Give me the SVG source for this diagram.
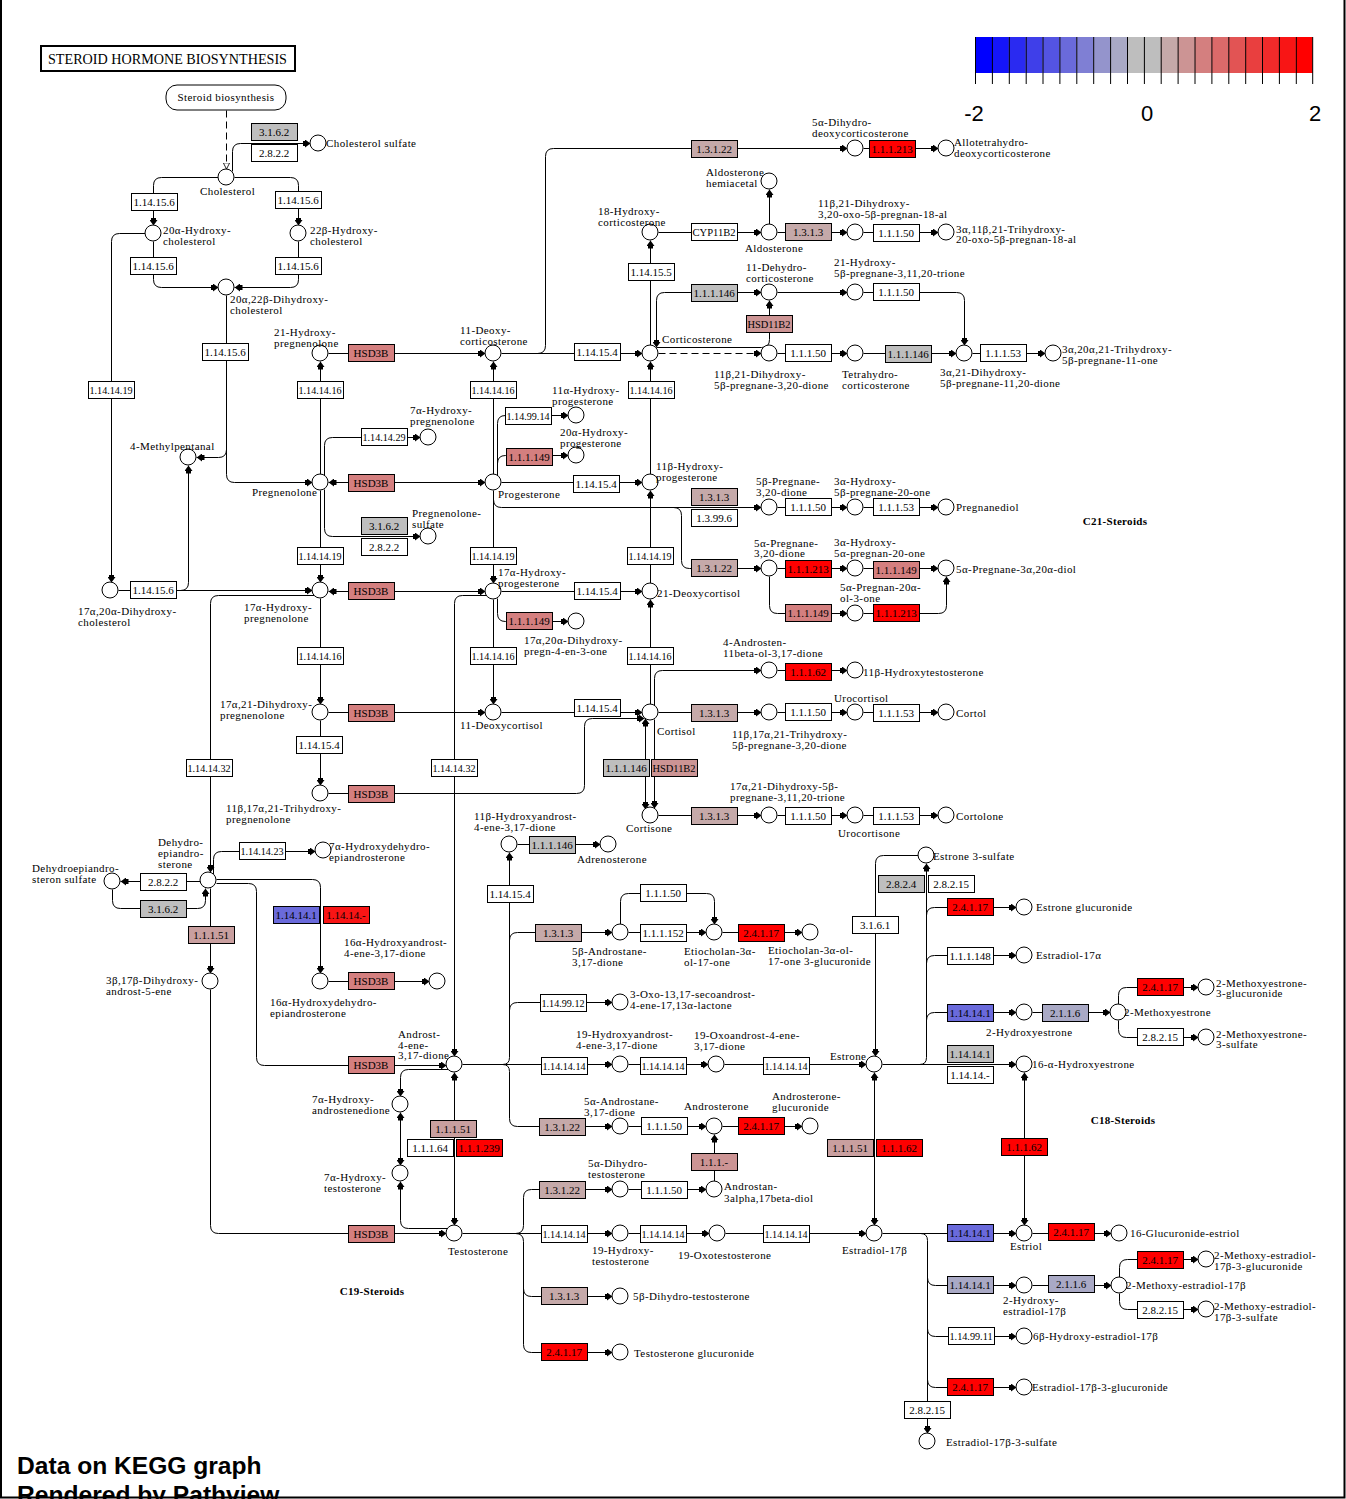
<svg xmlns="http://www.w3.org/2000/svg" width="1346" height="1499" viewBox="0 0 1346 1499">
<style>
text{font-family:"Liberation Serif","Times New Roman",serif;fill:#000}
.l{font-size:11px;letter-spacing:0.4px}
.t{font-size:11px;text-anchor:middle}
.bd{font-size:11px;font-weight:bold;text-anchor:middle;letter-spacing:0.3px}
.sans{font-family:"Liberation Sans",Arial,sans-serif}
.c{fill:#fff;stroke:#000;stroke-width:1}
.e{stroke:#000;stroke-width:1}
.w{fill:#fff}.g{fill:#bebebe}.r{fill:#ff0000}.h{fill:#d47f7f}.p{fill:#c5a9a9}.q{fill:#cc9494}.s{fill:#c99f9f}.b{fill:#6a6adb}.v{fill:#a9a9c5}.x{fill:#f81515}
#conn path{fill:none;stroke:#000;stroke-width:1}
#conn .m{marker-end:url(#a)}
#conn .mm{marker-start:url(#a);marker-end:url(#a)}
#conn .d{stroke-dasharray:7 4}
</style>
<defs>
<marker id="a" viewBox="0 0 8 8" refX="8" refY="4" markerWidth="8" markerHeight="8" markerUnits="userSpaceOnUse" orient="auto-start-reverse"><path d="M0,1.5H2.5V0L8,4L2.5,8V6.5H0Z" fill="#000"/></marker>
<marker id="o" viewBox="0 0 10 10" refX="10" refY="5" markerWidth="7" markerHeight="7" markerUnits="userSpaceOnUse" orient="auto"><path d="M0.5,0.5L9.5,5L0.5,9.5Z" fill="#fff" stroke="#000" stroke-width="1.2"/></marker>
</defs>
<rect x="0" y="0" width="1346" height="1499" fill="#fff"/>

<g id="legend">
<rect x="975" y="37" width="17" height="36" fill="#0000ff"/>
<rect x="991.9" y="37" width="17" height="36" fill="#1515f8"/>
<rect x="1008.8" y="37" width="17" height="36" fill="#2a2af1"/>
<rect x="1025.7" y="37" width="17" height="36" fill="#3f3fe9"/>
<rect x="1042.5" y="37" width="17" height="36" fill="#5454e2"/>
<rect x="1059.4" y="37" width="17" height="36" fill="#6a6adb"/>
<rect x="1076.3" y="37" width="17" height="36" fill="#7f7fd4"/>
<rect x="1093.2" y="37" width="17" height="36" fill="#9494cc"/>
<rect x="1110.1" y="37" width="17" height="36" fill="#a9a9c5"/>
<rect x="1127" y="37" width="17" height="36" fill="#bebebe"/>
<rect x="1143.9" y="37" width="17" height="36" fill="#bebebe"/>
<rect x="1160.7" y="37" width="17" height="36" fill="#c5a9a9"/>
<rect x="1177.6" y="37" width="17" height="36" fill="#cc9494"/>
<rect x="1194.5" y="37" width="17" height="36" fill="#d47f7f"/>
<rect x="1211.4" y="37" width="17" height="36" fill="#db6a6a"/>
<rect x="1228.3" y="37" width="17" height="36" fill="#e25454"/>
<rect x="1245.2" y="37" width="17" height="36" fill="#e93f3f"/>
<rect x="1262" y="37" width="17" height="36" fill="#f12a2a"/>
<rect x="1278.9" y="37" width="17" height="36" fill="#f81515"/>
<rect x="1295.8" y="37" width="16.9" height="36" fill="#ff0000"/>
<path d="M975.5,37V84M992.4,37V84M1009.3,37V84M1026.2,37V84M1043,37V84M1059.9,37V84M1076.8,37V84M1093.7,37V84M1110.6,37V84M1127.5,37V84M1144.4,37V84M1161.2,37V84M1178.1,37V84M1195,37V84M1211.9,37V84M1228.8,37V84M1245.7,37V84M1262.5,37V84M1279.4,37V84M1296.3,37V84M1312.7,37V84" stroke="#000" stroke-width="1" fill="none"/>
<text class="sans" x="974" y="121" font-size="22" text-anchor="middle">-2</text>
<text class="sans" x="1147" y="121" font-size="22" text-anchor="middle">0</text>
<text class="sans" x="1315" y="121" font-size="22" text-anchor="middle">2</text>
</g>

<g id="title">
<rect x="41" y="46" width="254" height="25" fill="#fff" stroke="#000" stroke-width="2"/>
<text x="48" y="64" font-size="15" textLength="239" lengthAdjust="spacingAndGlyphs">STEROID HORMONE BIOSYNTHESIS</text>
</g>

<g id="conn" transform="translate(.5,.5)">
<path class="d" d="M226,110V169" style="marker-end:url(#o)"/>
<path class="m" d="M232,171V151Q232,143 240,143H310"/>
<path class="m" d="M218,177H161Q153,177 153,185V225"/>
<path class="m" d="M234,177H290Q298,177 298,185V225"/>
<path class="m" d="M153,241V279Q153,287 161,287H218"/>
<path class="m" d="M298,241V279Q298,287 290,287H234"/>
<path class="m" d="M145,233H119Q111,233 111,241V582"/>
<path class="m" d="M118,590H312"/>
<path class="m" d="M180,590Q188,590 188,582V465"/>
<path class="m" d="M226,295V474Q226,482 234,482H312"/>
<path class="m" d="M226,449Q226,457 218,457H196"/>
<path class="m" d="M320,474V361"/>
<path class="m" d="M328,353H485"/>
<path class="mm" d="M328,482H485"/>
<path class="m" d="M324,475V445Q324,437 332,437H420"/>
<path class="m" d="M324,489V528Q324,536 332,536H420"/>
<path class="m" d="M320,490V582"/>
<path class="mm" d="M328,591H485"/>
<path class="m" d="M320,598V704"/>
<path class="m" d="M314,595H218Q210,595 210,603V872"/>
<path class="m" d="M328,712H485"/>
<path class="m" d="M320,720V785"/>
<path class="m" d="M328,793H576Q584,793 584,785V726Q584,718 592,718H644"/>
<path class="m" d="M493,474V361"/>
<path class="m" d="M497,475V423Q497,415 505,415H568"/>
<path class="m" d="M497,463Q497,455 505,455H568"/>
<path class="m" d="M501,482H642"/>
<path class="m" d="M493,490V583"/>
<path class="m" d="M493,499Q493,507 501,507H761"/>
<path class="m" d="M673,507Q681,507 681,515V560Q681,568 689,568H761"/>
<path class="m" d="M650,474V361"/>
<path class="m" d="M650,583V490"/>
<path class="m" d="M501,591H642"/>
<path class="m" d="M497,598V613Q497,621 505,621H568"/>
<path class="m" d="M493,599V704"/>
<path class="m" d="M486,595H462Q454,595 454,603V1056"/>
<path class="m" d="M650,704V599"/>
<path class="m" d="M501,712H642"/>
<path class="m" d="M654,705V678Q654,670 662,670H761"/>
<path class="m" d="M777,670H847"/>
<path class="m" d="M501,353H642"/>
<path class="m" d="M537,353Q545,353 545,345V156Q545,148 553,148H847"/>
<path class="m" d="M863,148H938"/>
<path class="m" d="M650,345V240"/>
<path class="m" d="M658,232H761"/>
<path class="m" d="M769,224V189"/>
<path class="m" d="M777,232H847"/>
<path class="m" d="M863,232H938"/>
<path class="mm" d="M656,347V300Q656,292 664,292H761"/>
<path class="m" d="M656,347H761Q769,347 769,339V300"/>
<path class="m d" d="M658,353H761"/>
<path class="m" d="M777,353H847"/>
<path class="m" d="M863,353H956"/>
<path class="m" d="M777,292H847"/>
<path class="m" d="M863,292H956Q964,292 964,300V345"/>
<path class="m" d="M972,353H1045"/>
<path class="m" d="M777,507H847"/>
<path class="m" d="M863,507H938"/>
<path class="m" d="M777,568H847"/>
<path class="m" d="M863,568H938"/>
<path class="m" d="M769,576V605Q769,613 777,613H847"/>
<path class="m" d="M863,613H938Q946,613 946,605V576"/>
<path class="m" d="M658,712H761"/>
<path class="m" d="M777,712H847"/>
<path class="m" d="M863,712H938"/>
<path class="mm" d="M645,718V809"/>
<path class="m" d="M654,719V808"/>
<path class="m" d="M658,815H761"/>
<path class="m" d="M777,815H847"/>
<path class="m" d="M863,815H938"/>
<path class="m" d="M502,1064Q509,1064 509,1057V852"/>
<path class="m" d="M517,844H600"/>
<path class="m" d="M509,940Q509,932 517,932H612"/>
<path class="m" d="M628,932H706"/>
<path class="m" d="M620,924V901Q620,893 628,893H706Q714,893 714,901V924"/>
<path class="m" d="M722,932H802"/>
<path class="m" d="M509,1010Q509,1002 517,1002H612"/>
<path class="m" d="M502,1064Q509,1064 509,1071V1118Q509,1126 517,1126H612"/>
<path class="m" d="M462,1064H612"/>
<path class="m" d="M628,1064H708"/>
<path class="m" d="M724,1064H866"/>
<path class="m" d="M628,1126H706"/>
<path class="m" d="M722,1126H802"/>
<path class="m" d="M714,1181V1134"/>
<path class="m" d="M628,1189H706"/>
<path class="m" d="M462,1233H612"/>
<path class="m" d="M628,1233H709"/>
<path class="m" d="M725,1233H866"/>
<path class="m" d="M515,1233Q523,1233 523,1225V1197Q523,1189 531,1189H612"/>
<path class="m" d="M515,1233Q523,1233 523,1241V1344Q523,1352 531,1352H612"/>
<path class="m" d="M523,1288Q523,1296 531,1296H612"/>
<path class="mm" d="M454,1072V1225"/>
<path class="m" d="M448,1069H408Q400,1069 400,1077V1096"/>
<path class="mm" d="M400,1112V1165"/>
<path class="m" d="M448,1228H408Q400,1228 400,1220V1181"/>
<path class="m" d="M216,883H248Q256,883 256,891V1057Q256,1065 264,1065H446"/>
<path class="m" d="M216,879H312Q320,879 320,887V973"/>
<path class="m" d="M213,874V859Q213,851 221,851H315"/>
<path class="m" d="M200,881H120"/>
<path class="m" d="M112,889V900Q112,908 120,908H197Q205,908 205,900V888"/>
<path class="m" d="M210,888V973"/>
<path class="m" d="M210,989V1225Q210,1233 218,1233H446"/>
<path class="m" d="M328,981H429"/>
<path class="mm" d="M874,1072V1225"/>
<path class="m" d="M918,855H883Q875,855 875,863V1056"/>
<path class="m" d="M882,1064H1016"/>
<path class="m" d="M919,1064Q926,1064 926,1057V863"/>
<path class="m" d="M926,915Q926,907 934,907H1016"/>
<path class="m" d="M926,963Q926,955 934,955H1016"/>
<path class="m" d="M926,1020Q926,1012 934,1012H1016"/>
<path class="m" d="M1032,1012H1110"/>
<path class="m" d="M1118,1004V995Q1118,987 1126,987H1198"/>
<path class="m" d="M1118,1020V1029Q1118,1037 1126,1037H1198"/>
<path class="mm" d="M1024,1072V1225"/>
<path class="m" d="M882,1233H1016"/>
<path class="m" d="M1032,1233H1111"/>
<path class="m" d="M920,1233Q927,1233 927,1240V1433"/>
<path class="m" d="M927,1277Q927,1285 935,1285H1016"/>
<path class="m" d="M927,1328Q927,1336 935,1336H1016"/>
<path class="m" d="M927,1379Q927,1387 935,1387H1016"/>
<path class="m" d="M1032,1285H1111"/>
<path class="m" d="M1119,1277V1267Q1119,1259 1127,1259H1198"/>
<path class="m" d="M1119,1293V1301Q1119,1309 1127,1309H1198"/>
</g>

<g id="map-steroid-biosynthesis"><rect x="166" y="85" width="120" height="25" rx="11" fill="#fff" stroke="#000"/><text class="l" x="226" y="101" text-anchor="middle" letter-spacing="0.2">Steroid biosynthesis</text></g>

<g id="enzymes">
<g id="e1"><rect class="e g" x="251.5" y="123.5" width="46" height="17"/><text class="t" x="274" y="136">3.1.6.2</text></g>
<g id="e2"><rect class="e w" x="251.5" y="144.5" width="46" height="17"/><text class="t" x="274" y="157">2.8.2.2</text></g>
<g id="e3"><rect class="e w" x="131.5" y="193.5" width="46" height="17"/><text class="t" x="154" y="206">1.14.15.6</text></g>
<g id="e4"><rect class="e w" x="275.5" y="191.5" width="46" height="17"/><text class="t" x="298" y="204">1.14.15.6</text></g>
<g id="e5"><rect class="e w" x="130.5" y="257.5" width="46" height="17"/><text class="t" x="153" y="270">1.14.15.6</text></g>
<g id="e6"><rect class="e w" x="275.5" y="257.5" width="46" height="17"/><text class="t" x="298" y="270">1.14.15.6</text></g>
<g id="e7"><rect class="e w" x="202.5" y="343.5" width="46" height="17"/><text class="t" x="225" y="356">1.14.15.6</text></g>
<g id="e8"><rect class="e h" x="348.5" y="344.5" width="46" height="17"/><text class="t" x="371" y="357">HSD3B</text></g>
<g id="e9"><rect class="e w" x="297.5" y="381.5" width="46" height="17"/><text class="t" x="320" y="394" textLength="43" lengthAdjust="spacingAndGlyphs">1.14.14.16</text></g>
<g id="e10"><rect class="e w" x="88.5" y="381.5" width="46" height="17"/><text class="t" x="111" y="394" textLength="43" lengthAdjust="spacingAndGlyphs">1.14.14.19</text></g>
<g id="e11"><rect class="e w" x="361.5" y="428.5" width="46" height="17"/><text class="t" x="384" y="441" textLength="43" lengthAdjust="spacingAndGlyphs">1.14.14.29</text></g>
<g id="e12"><rect class="e h" x="348.5" y="474.5" width="46" height="17"/><text class="t" x="371" y="487">HSD3B</text></g>
<g id="e13"><rect class="e g" x="361.5" y="517.5" width="46" height="17"/><text class="t" x="384" y="530">3.1.6.2</text></g>
<g id="e14"><rect class="e w" x="361.5" y="538.5" width="46" height="17"/><text class="t" x="384" y="551">2.8.2.2</text></g>
<g id="e15"><rect class="e w" x="297.5" y="547.5" width="46" height="17"/><text class="t" x="320" y="560" textLength="43" lengthAdjust="spacingAndGlyphs">1.14.14.19</text></g>
<g id="e16"><rect class="e w" x="130.5" y="581.5" width="46" height="17"/><text class="t" x="153" y="594">1.14.15.6</text></g>
<g id="e17"><rect class="e h" x="348.5" y="582.5" width="46" height="17"/><text class="t" x="371" y="595">HSD3B</text></g>
<g id="e18"><rect class="e w" x="297.5" y="647.5" width="46" height="17"/><text class="t" x="320" y="660" textLength="43" lengthAdjust="spacingAndGlyphs">1.14.14.16</text></g>
<g id="e19"><rect class="e h" x="348.5" y="704.5" width="46" height="17"/><text class="t" x="371" y="717">HSD3B</text></g>
<g id="e20"><rect class="e w" x="296.5" y="736.5" width="46" height="17"/><text class="t" x="319" y="749">1.14.15.4</text></g>
<g id="e21"><rect class="e w" x="186.5" y="759.5" width="46" height="17"/><text class="t" x="209" y="772" textLength="43" lengthAdjust="spacingAndGlyphs">1.14.14.32</text></g>
<g id="e22"><rect class="e h" x="348.5" y="785.5" width="46" height="17"/><text class="t" x="371" y="798">HSD3B</text></g>
<g id="e23"><rect class="e w" x="470.5" y="381.5" width="46" height="17"/><text class="t" x="493" y="394" textLength="43" lengthAdjust="spacingAndGlyphs">1.14.14.16</text></g>
<g id="e24"><rect class="e w" x="505.5" y="407.5" width="46" height="17"/><text class="t" x="528" y="420" textLength="43" lengthAdjust="spacingAndGlyphs">1.14.99.14</text></g>
<g id="e25"><rect class="e h" x="506.5" y="448.5" width="46" height="17"/><text class="t" x="529" y="461">1.1.1.149</text></g>
<g id="e26"><rect class="e w" x="573.5" y="475.5" width="46" height="17"/><text class="t" x="596" y="488">1.14.15.4</text></g>
<g id="e27"><rect class="e w" x="470.5" y="547.5" width="46" height="17"/><text class="t" x="493" y="560" textLength="43" lengthAdjust="spacingAndGlyphs">1.14.14.19</text></g>
<g id="e28"><rect class="e w" x="574.5" y="582.5" width="46" height="17"/><text class="t" x="597" y="595">1.14.15.4</text></g>
<g id="e29"><rect class="e h" x="506.5" y="612.5" width="46" height="17"/><text class="t" x="529" y="625">1.1.1.149</text></g>
<g id="e30"><rect class="e w" x="470.5" y="647.5" width="46" height="17"/><text class="t" x="493" y="660" textLength="43" lengthAdjust="spacingAndGlyphs">1.14.14.16</text></g>
<g id="e31"><rect class="e w" x="431.5" y="759.5" width="46" height="17"/><text class="t" x="454" y="772" textLength="43" lengthAdjust="spacingAndGlyphs">1.14.14.32</text></g>
<g id="e32"><rect class="e w" x="574.5" y="343.5" width="46" height="17"/><text class="t" x="597" y="356">1.14.15.4</text></g>
<g id="e33"><rect class="e p" x="691.5" y="140.5" width="46" height="17"/><text class="t" x="714" y="153">1.3.1.22</text></g>
<g id="e34"><rect class="e r" x="869.5" y="140.5" width="46" height="17"/><text class="t" x="892" y="153">1.1.1.213</text></g>
<g id="e35"><rect class="e w" x="628.5" y="263.5" width="46" height="17"/><text class="t" x="651" y="276">1.14.15.5</text></g>
<g id="e36"><rect class="e w" x="691.5" y="223.5" width="46" height="17"/><text class="t" x="714" y="236" textLength="43" lengthAdjust="spacingAndGlyphs">CYP11B2</text></g>
<g id="e37"><rect class="e p" x="785.5" y="223.5" width="46" height="17"/><text class="t" x="808" y="236">1.3.1.3</text></g>
<g id="e38"><rect class="e w" x="873.5" y="224.5" width="46" height="17"/><text class="t" x="896" y="237">1.1.1.50</text></g>
<g id="e39"><rect class="e g" x="691.5" y="284.5" width="46" height="17"/><text class="t" x="714" y="297">1.1.1.146</text></g>
<g id="e40"><rect class="e q" x="746.5" y="315.5" width="46" height="17"/><text class="t" x="769" y="328" textLength="43" lengthAdjust="spacingAndGlyphs">HSD11B2</text></g>
<g id="e41"><rect class="e w" x="785.5" y="344.5" width="46" height="17"/><text class="t" x="808" y="357">1.1.1.50</text></g>
<g id="e42"><rect class="e g" x="885.5" y="345.5" width="46" height="17"/><text class="t" x="908" y="358">1.1.1.146</text></g>
<g id="e43"><rect class="e w" x="873.5" y="283.5" width="46" height="17"/><text class="t" x="896" y="296">1.1.1.50</text></g>
<g id="e44"><rect class="e w" x="980.5" y="344.5" width="46" height="17"/><text class="t" x="1003" y="357">1.1.1.53</text></g>
<g id="e45"><rect class="e w" x="628.5" y="381.5" width="46" height="17"/><text class="t" x="651" y="394" textLength="43" lengthAdjust="spacingAndGlyphs">1.14.14.16</text></g>
<g id="e46"><rect class="e p" x="691.5" y="488.5" width="46" height="17"/><text class="t" x="714" y="501">1.3.1.3</text></g>
<g id="e47"><rect class="e w" x="691.5" y="509.5" width="46" height="17"/><text class="t" x="714" y="522">1.3.99.6</text></g>
<g id="e48"><rect class="e w" x="785.5" y="498.5" width="46" height="17"/><text class="t" x="808" y="511">1.1.1.50</text></g>
<g id="e49"><rect class="e w" x="873.5" y="498.5" width="46" height="17"/><text class="t" x="896" y="511">1.1.1.53</text></g>
<g id="e50"><rect class="e w" x="627.5" y="547.5" width="46" height="17"/><text class="t" x="650" y="560" textLength="43" lengthAdjust="spacingAndGlyphs">1.14.14.19</text></g>
<g id="e51"><rect class="e p" x="691.5" y="559.5" width="46" height="17"/><text class="t" x="714" y="572">1.3.1.22</text></g>
<g id="e52"><rect class="e r" x="785.5" y="560.5" width="46" height="17"/><text class="t" x="808" y="573">1.1.1.213</text></g>
<g id="e53"><rect class="e h" x="873.5" y="561.5" width="46" height="17"/><text class="t" x="896" y="574">1.1.1.149</text></g>
<g id="e54"><rect class="e h" x="785.5" y="604.5" width="46" height="17"/><text class="t" x="808" y="617">1.1.1.149</text></g>
<g id="e55"><rect class="e r" x="873.5" y="604.5" width="46" height="17"/><text class="t" x="896" y="617">1.1.1.213</text></g>
<g id="e56"><rect class="e w" x="627.5" y="647.5" width="46" height="17"/><text class="t" x="650" y="660" textLength="43" lengthAdjust="spacingAndGlyphs">1.14.14.16</text></g>
<g id="e57"><rect class="e r" x="785.5" y="663.5" width="46" height="17"/><text class="t" x="808" y="676">1.1.1.62</text></g>
<g id="e58"><rect class="e w" x="574.5" y="699.5" width="46" height="17"/><text class="t" x="597" y="712">1.14.15.4</text></g>
<g id="e59"><rect class="e p" x="691.5" y="704.5" width="46" height="17"/><text class="t" x="714" y="717">1.3.1.3</text></g>
<g id="e60"><rect class="e w" x="785.5" y="703.5" width="46" height="17"/><text class="t" x="808" y="716">1.1.1.50</text></g>
<g id="e61"><rect class="e w" x="873.5" y="704.5" width="46" height="17"/><text class="t" x="896" y="717">1.1.1.53</text></g>
<g id="e62"><rect class="e g" x="603.5" y="759.5" width="46" height="17"/><text class="t" x="626" y="772">1.1.1.146</text></g>
<g id="e63"><rect class="e q" x="651.5" y="759.5" width="46" height="17"/><text class="t" x="674" y="772" textLength="43" lengthAdjust="spacingAndGlyphs">HSD11B2</text></g>
<g id="e64"><rect class="e p" x="691.5" y="807.5" width="46" height="17"/><text class="t" x="714" y="820">1.3.1.3</text></g>
<g id="e65"><rect class="e w" x="785.5" y="807.5" width="46" height="17"/><text class="t" x="808" y="820">1.1.1.50</text></g>
<g id="e66"><rect class="e w" x="873.5" y="807.5" width="46" height="17"/><text class="t" x="896" y="820">1.1.1.53</text></g>
<g id="e67"><rect class="e g" x="529.5" y="836.5" width="46" height="17"/><text class="t" x="552" y="849">1.1.1.146</text></g>
<g id="e68"><rect class="e w" x="487.5" y="885.5" width="46" height="17"/><text class="t" x="510" y="898">1.14.15.4</text></g>
<g id="e69"><rect class="e p" x="535.5" y="924.5" width="46" height="17"/><text class="t" x="558" y="937">1.3.1.3</text></g>
<g id="e70"><rect class="e w" x="640.5" y="884.5" width="46" height="17"/><text class="t" x="663" y="897">1.1.1.50</text></g>
<g id="e71"><rect class="e w" x="640.5" y="924.5" width="46" height="17"/><text class="t" x="663" y="937">1.1.1.152</text></g>
<g id="e72"><rect class="e r" x="738.5" y="924.5" width="46" height="17"/><text class="t" x="761" y="937">2.4.1.17</text></g>
<g id="e73"><rect class="e w" x="540.5" y="994.5" width="46" height="17"/><text class="t" x="563" y="1007" textLength="43" lengthAdjust="spacingAndGlyphs">1.14.99.12</text></g>
<g id="e74"><rect class="e w" x="239.5" y="842.5" width="46" height="17"/><text class="t" x="262" y="855" textLength="43" lengthAdjust="spacingAndGlyphs">1.14.14.23</text></g>
<g id="e75"><rect class="e w" x="140.5" y="873.5" width="46" height="17"/><text class="t" x="163" y="886">2.8.2.2</text></g>
<g id="e76"><rect class="e g" x="140.5" y="900.5" width="46" height="17"/><text class="t" x="163" y="913">3.1.6.2</text></g>
<g id="e77"><rect class="e b" x="273.5" y="906.5" width="46" height="17"/><text class="t" x="296" y="919">1.14.14.1</text></g>
<g id="e78"><rect class="e x" x="323.5" y="906.5" width="46" height="17"/><text class="t" x="346" y="919">1.14.14.-</text></g>
<g id="e79"><rect class="e s" x="188.5" y="926.5" width="46" height="17"/><text class="t" x="211" y="939">1.1.1.51</text></g>
<g id="e80"><rect class="e h" x="348.5" y="972.5" width="46" height="17"/><text class="t" x="371" y="985">HSD3B</text></g>
<g id="e81"><rect class="e h" x="348.5" y="1056.5" width="46" height="17"/><text class="t" x="371" y="1069">HSD3B</text></g>
<g id="e82"><rect class="e h" x="348.5" y="1225.5" width="46" height="17"/><text class="t" x="371" y="1238">HSD3B</text></g>
<g id="e83"><rect class="e s" x="430.5" y="1120.5" width="46" height="17"/><text class="t" x="453" y="1133">1.1.1.51</text></g>
<g id="e84"><rect class="e w" x="407.5" y="1139.5" width="46" height="17"/><text class="t" x="430" y="1152">1.1.1.64</text></g>
<g id="e85"><rect class="e r" x="456.5" y="1139.5" width="46" height="17"/><text class="t" x="479" y="1152">1.1.1.239</text></g>
<g id="e86"><rect class="e w" x="541.5" y="1057.5" width="46" height="17"/><text class="t" x="564" y="1070" textLength="43" lengthAdjust="spacingAndGlyphs">1.14.14.14</text></g>
<g id="e87"><rect class="e w" x="640.5" y="1057.5" width="46" height="17"/><text class="t" x="663" y="1070" textLength="43" lengthAdjust="spacingAndGlyphs">1.14.14.14</text></g>
<g id="e88"><rect class="e w" x="763.5" y="1057.5" width="46" height="17"/><text class="t" x="786" y="1070" textLength="43" lengthAdjust="spacingAndGlyphs">1.14.14.14</text></g>
<g id="e89"><rect class="e p" x="539.5" y="1118.5" width="46" height="17"/><text class="t" x="562" y="1131">1.3.1.22</text></g>
<g id="e90"><rect class="e w" x="641.5" y="1117.5" width="46" height="17"/><text class="t" x="664" y="1130">1.1.1.50</text></g>
<g id="e91"><rect class="e r" x="738.5" y="1117.5" width="46" height="17"/><text class="t" x="761" y="1130">2.4.1.17</text></g>
<g id="e92"><rect class="e q" x="691.5" y="1153.5" width="46" height="17"/><text class="t" x="714" y="1166">1.1.1.-</text></g>
<g id="e93"><rect class="e p" x="539.5" y="1181.5" width="46" height="17"/><text class="t" x="562" y="1194">1.3.1.22</text></g>
<g id="e94"><rect class="e w" x="641.5" y="1181.5" width="46" height="17"/><text class="t" x="664" y="1194">1.1.1.50</text></g>
<g id="e95"><rect class="e w" x="541.5" y="1225.5" width="46" height="17"/><text class="t" x="564" y="1238" textLength="43" lengthAdjust="spacingAndGlyphs">1.14.14.14</text></g>
<g id="e96"><rect class="e w" x="640.5" y="1225.5" width="46" height="17"/><text class="t" x="663" y="1238" textLength="43" lengthAdjust="spacingAndGlyphs">1.14.14.14</text></g>
<g id="e97"><rect class="e w" x="763.5" y="1225.5" width="46" height="17"/><text class="t" x="786" y="1238" textLength="43" lengthAdjust="spacingAndGlyphs">1.14.14.14</text></g>
<g id="e98"><rect class="e p" x="541.5" y="1287.5" width="46" height="17"/><text class="t" x="564" y="1300">1.3.1.3</text></g>
<g id="e99"><rect class="e r" x="541.5" y="1343.5" width="46" height="17"/><text class="t" x="564" y="1356">2.4.1.17</text></g>
<g id="e100"><rect class="e s" x="827.5" y="1139.5" width="46" height="17"/><text class="t" x="850" y="1152">1.1.1.51</text></g>
<g id="e101"><rect class="e r" x="876.5" y="1139.5" width="46" height="17"/><text class="t" x="899" y="1152">1.1.1.62</text></g>
<g id="e102"><rect class="e g" x="878.5" y="875.5" width="46" height="17"/><text class="t" x="901" y="888">2.8.2.4</text></g>
<g id="e103"><rect class="e w" x="928.5" y="875.5" width="46" height="17"/><text class="t" x="951" y="888">2.8.2.15</text></g>
<g id="e104"><rect class="e w" x="852.5" y="916.5" width="46" height="17"/><text class="t" x="875" y="929">3.1.6.1</text></g>
<g id="e105"><rect class="e r" x="947.5" y="898.5" width="46" height="17"/><text class="t" x="970" y="911">2.4.1.17</text></g>
<g id="e106"><rect class="e w" x="947.5" y="947.5" width="46" height="17"/><text class="t" x="970" y="960">1.1.1.148</text></g>
<g id="e107"><rect class="e b" x="947.5" y="1004.5" width="46" height="17"/><text class="t" x="970" y="1017">1.14.14.1</text></g>
<g id="e108"><rect class="e v" x="1042.5" y="1004.5" width="46" height="17"/><text class="t" x="1065" y="1017">2.1.1.6</text></g>
<g id="e109"><rect class="e r" x="1137.5" y="978.5" width="46" height="17"/><text class="t" x="1160" y="991">2.4.1.17</text></g>
<g id="e110"><rect class="e w" x="1137.5" y="1028.5" width="46" height="17"/><text class="t" x="1160" y="1041">2.8.2.15</text></g>
<g id="e111"><rect class="e g" x="947.5" y="1045.5" width="46" height="17"/><text class="t" x="970" y="1058">1.14.14.1</text></g>
<g id="e112"><rect class="e w" x="947.5" y="1066.5" width="46" height="17"/><text class="t" x="970" y="1079">1.14.14.-</text></g>
<g id="e113"><rect class="e r" x="1001.5" y="1138.5" width="46" height="17"/><text class="t" x="1024" y="1151">1.1.1.62</text></g>
<g id="e114"><rect class="e b" x="947.5" y="1224.5" width="46" height="17"/><text class="t" x="970" y="1237">1.14.14.1</text></g>
<g id="e115"><rect class="e r" x="1048.5" y="1223.5" width="46" height="17"/><text class="t" x="1071" y="1236">2.4.1.17</text></g>
<g id="e116"><rect class="e v" x="947.5" y="1276.5" width="46" height="17"/><text class="t" x="970" y="1289">1.14.14.1</text></g>
<g id="e117"><rect class="e v" x="1048.5" y="1275.5" width="46" height="17"/><text class="t" x="1071" y="1288">2.1.1.6</text></g>
<g id="e118"><rect class="e r" x="1137.5" y="1251.5" width="46" height="17"/><text class="t" x="1160" y="1264">2.4.1.17</text></g>
<g id="e119"><rect class="e w" x="1137.5" y="1301.5" width="46" height="17"/><text class="t" x="1160" y="1314">2.8.2.15</text></g>
<g id="e120"><rect class="e w" x="948.5" y="1327.5" width="46" height="17"/><text class="t" x="971" y="1340" textLength="43" lengthAdjust="spacingAndGlyphs">1.14.99.11</text></g>
<g id="e121"><rect class="e r" x="947.5" y="1378.5" width="46" height="17"/><text class="t" x="970" y="1391">2.4.1.17</text></g>
<g id="e122"><rect class="e w" x="904.5" y="1401.5" width="46" height="17"/><text class="t" x="927" y="1414">2.8.2.15</text></g>
</g>

<g id="compounds">
<g id="c1"><circle class="c" cx="226" cy="177" r="8"/><text class="l" x="200" y="195">Cholesterol</text></g>
<g id="c2"><circle class="c" cx="318" cy="143" r="8"/><text class="l" x="326" y="147">Cholesterol sulfate</text></g>
<g id="c3"><circle class="c" cx="153" cy="233" r="8"/><text class="l" x="163" y="234">20α-Hydroxy-<tspan x="163" dy="11">cholesterol</tspan></text></g>
<g id="c4"><circle class="c" cx="298" cy="233" r="8"/><text class="l" x="310" y="234">22β-Hydroxy-<tspan x="310" dy="11">cholesterol</tspan></text></g>
<g id="c5"><circle class="c" cx="226" cy="287" r="8"/><text class="l" x="230" y="303">20α,22β-Dihydroxy-<tspan x="230" dy="11">cholesterol</tspan></text></g>
<g id="c6"><circle class="c" cx="320" cy="353" r="8"/><text class="l" x="274" y="336">21-Hydroxy-<tspan x="274" dy="11">pregnenolone</tspan></text></g>
<g id="c7"><circle class="c" cx="188" cy="457" r="8"/><text class="l" x="130" y="450">4-Methylpentanal</text></g>
<g id="c8"><circle class="c" cx="110" cy="590" r="8"/><text class="l" x="78" y="615">17α,20α-Dihydroxy-<tspan x="78" dy="11">cholesterol</tspan></text></g>
<g id="c9"><circle class="c" cx="320" cy="482" r="8"/><text class="l" x="252" y="496">Pregnenolone</text></g>
<g id="c10"><circle class="c" cx="428" cy="437" r="8"/><text class="l" x="410" y="414">7α-Hydroxy-<tspan x="410" dy="11">pregnenolone</tspan></text></g>
<g id="c11"><circle class="c" cx="428" cy="536" r="8"/><text class="l" x="412" y="517">Pregnenolone-<tspan x="412" dy="11">sulfate</tspan></text></g>
<g id="c12"><circle class="c" cx="320" cy="590" r="8"/><text class="l" x="244" y="611">17α-Hydroxy-<tspan x="244" dy="11">pregnenolone</tspan></text></g>
<g id="c13"><circle class="c" cx="320" cy="712" r="8"/><text class="l" x="220" y="708">17α,21-Dihydroxy-<tspan x="220" dy="11">pregnenolone</tspan></text></g>
<g id="c14"><circle class="c" cx="320" cy="793" r="8"/><text class="l" x="226" y="812">11β,17α,21-Trihydroxy-<tspan x="226" dy="11">pregnenolone</tspan></text></g>
<g id="c15"><circle class="c" cx="493" cy="353" r="8"/><text class="l" x="460" y="334">11-Deoxy-<tspan x="460" dy="11">corticosterone</tspan></text></g>
<g id="c16"><circle class="c" cx="493" cy="482" r="8"/><text class="l" x="498" y="498">Progesterone</text></g>
<g id="c17"><circle class="c" cx="576" cy="415" r="8"/><text class="l" x="552" y="394">11α-Hydroxy-<tspan x="552" dy="11">progesterone</tspan></text></g>
<g id="c18"><circle class="c" cx="576" cy="455" r="8"/><text class="l" x="560" y="436">20α-Hydroxy-<tspan x="560" dy="11">progesterone</tspan></text></g>
<g id="c19"><circle class="c" cx="493" cy="591" r="8"/><text class="l" x="498" y="576">17α-Hydroxy-<tspan x="498" dy="11">progesterone</tspan></text></g>
<g id="c20"><circle class="c" cx="576" cy="621" r="8"/><text class="l" x="524" y="644">17α,20α-Dihydroxy-<tspan x="524" dy="11">pregn-4-en-3-one</tspan></text></g>
<g id="c21"><circle class="c" cx="493" cy="712" r="8"/><text class="l" x="460" y="729">11-Deoxycortisol</text></g>
<g id="c22"><circle class="c" cx="650" cy="353" r="8"/><text class="l" x="662" y="343">Corticosterone</text></g>
<g id="c23"><circle class="c" cx="650" cy="232" r="8"/><text class="l" x="598" y="215">18-Hydroxy-<tspan x="598" dy="11">corticosterone</tspan></text></g>
<g id="c24"><circle class="c" cx="769" cy="232" r="8"/><text class="l" x="745" y="252">Aldosterone</text></g>
<g id="c25"><circle class="c" cx="769" cy="181" r="8"/><text class="l" x="706" y="176">Aldosterone<tspan x="706" dy="11">hemiacetal</tspan></text></g>
<g id="c26"><circle class="c" cx="855" cy="232" r="8"/><text class="l" x="818" y="207">11β,21-Dihydroxy-<tspan x="818" dy="11">3,20-oxo-5β-pregnan-18-al</tspan></text></g>
<g id="c27"><circle class="c" cx="946" cy="232" r="8"/><text class="l" x="956" y="233">3α,11β,21-Trihydroxy-<tspan x="956" dy="10">20-oxo-5β-pregnan-18-al</tspan></text></g>
<g id="c28"><circle class="c" cx="855" cy="148" r="8"/><text class="l" x="812" y="126">5α-Dihydro-<tspan x="812" dy="11">deoxycorticosterone</tspan></text></g>
<g id="c29"><circle class="c" cx="946" cy="148" r="8"/><text class="l" x="954" y="146">Allotetrahydro-<tspan x="954" dy="11">deoxycorticosterone</tspan></text></g>
<g id="c30"><circle class="c" cx="769" cy="292" r="8"/><text class="l" x="746" y="271">11-Dehydro-<tspan x="746" dy="11">corticosterone</tspan></text></g>
<g id="c31"><circle class="c" cx="855" cy="292" r="8"/><text class="l" x="834" y="266">21-Hydroxy-<tspan x="834" dy="11">5β-pregnane-3,11,20-trione</tspan></text></g>
<g id="c32"><circle class="c" cx="769" cy="353" r="8"/><text class="l" x="714" y="378">11β,21-Dihydroxy-<tspan x="714" dy="11">5β-pregnane-3,20-dione</tspan></text></g>
<g id="c33"><circle class="c" cx="855" cy="353" r="8"/><text class="l" x="842" y="378">Tetrahydro-<tspan x="842" dy="11">corticosterone</tspan></text></g>
<g id="c34"><circle class="c" cx="964" cy="353" r="8"/><text class="l" x="940" y="376">3α,21-Dihydroxy-<tspan x="940" dy="11">5β-pregnane-11,20-dione</tspan></text></g>
<g id="c35"><circle class="c" cx="1053" cy="353" r="8"/><text class="l" x="1062" y="353">3α,20α,21-Trihydroxy-<tspan x="1062" dy="11">5β-pregnane-11-one</tspan></text></g>
<g id="c36"><circle class="c" cx="650" cy="482" r="8"/><text class="l" x="656" y="470">11β-Hydroxy-<tspan x="656" dy="11">progesterone</tspan></text></g>
<g id="c37"><circle class="c" cx="769" cy="507" r="8"/><text class="l" x="756" y="485">5β-Pregnane-<tspan x="756" dy="11">3,20-dione</tspan></text></g>
<g id="c38"><circle class="c" cx="855" cy="507" r="8"/><text class="l" x="834" y="485">3α-Hydroxy-<tspan x="834" dy="11">5β-pregnane-20-one</tspan></text></g>
<g id="c39"><circle class="c" cx="946" cy="507" r="8"/><text class="l" x="956" y="511">Pregnanediol</text></g>
<g id="c40"><circle class="c" cx="650" cy="591" r="8"/><text class="l" x="657" y="597">21-Deoxycortisol</text></g>
<g id="c41"><circle class="c" cx="769" cy="568" r="8"/><text class="l" x="754" y="547">5α-Pregnane-<tspan x="754" dy="10">3,20-dione</tspan></text></g>
<g id="c42"><circle class="c" cx="855" cy="568" r="8"/><text class="l" x="834" y="546">3α-Hydroxy-<tspan x="834" dy="11">5α-pregnan-20-one</tspan></text></g>
<g id="c43"><circle class="c" cx="946" cy="568" r="8"/><text class="l" x="956" y="573">5α-Pregnane-3α,20α-diol</text></g>
<g id="c44"><circle class="c" cx="855" cy="613" r="8"/><text class="l" x="840" y="591">5α-Pregnan-20α-<tspan x="840" dy="11">ol-3-one</tspan></text></g>
<g id="c45"><circle class="c" cx="769" cy="670" r="8"/><text class="l" x="723" y="646">4-Androsten-<tspan x="723" dy="11">11beta-ol-3,17-dione</tspan></text></g>
<g id="c46"><circle class="c" cx="855" cy="670" r="8"/><text class="l" x="863" y="676">11β-Hydroxytestosterone</text></g>
<g id="c47"><circle class="c" cx="650" cy="712" r="8"/><text class="l" x="657" y="735">Cortisol</text></g>
<g id="c48"><circle class="c" cx="769" cy="712" r="8"/><text class="l" x="732" y="738">11β,17α,21-Trihydroxy-<tspan x="732" dy="11">5β-pregnane-3,20-dione</tspan></text></g>
<g id="c49"><circle class="c" cx="855" cy="712" r="8"/><text class="l" x="834" y="702">Urocortisol</text></g>
<g id="c50"><circle class="c" cx="946" cy="712" r="8"/><text class="l" x="956" y="717">Cortol</text></g>
<g id="c51"><circle class="c" cx="650" cy="815" r="8"/><text class="l" x="626" y="832">Cortisone</text></g>
<g id="c52"><circle class="c" cx="769" cy="815" r="8"/><text class="l" x="730" y="790">17α,21-Dihydroxy-5β-<tspan x="730" dy="11">pregnane-3,11,20-trione</tspan></text></g>
<g id="c53"><circle class="c" cx="855" cy="815" r="8"/><text class="l" x="838" y="837">Urocortisone</text></g>
<g id="c54"><circle class="c" cx="946" cy="815" r="8"/><text class="l" x="956" y="820">Cortolone</text></g>
<g id="c55"><circle class="c" cx="509" cy="844" r="8"/><text class="l" x="474" y="820">11β-Hydroxyandrost-<tspan x="474" dy="11">4-ene-3,17-dione</tspan></text></g>
<g id="c56"><circle class="c" cx="608" cy="844" r="8"/><text class="l" x="577" y="863">Adrenosterone</text></g>
<g id="c57"><circle class="c" cx="208" cy="880" r="8"/><text class="l" x="158" y="846">Dehydro-<tspan x="158" dy="11">epiandro-</tspan><tspan x="158" dy="11">sterone</tspan></text></g>
<g id="c58"><circle class="c" cx="112" cy="881" r="8"/><text class="l" x="32" y="872">Dehydroepiandro-<tspan x="32" dy="11">steron sulfate</tspan></text></g>
<g id="c59"><circle class="c" cx="323" cy="850" r="8"/><text class="l" x="329" y="850">7α-Hydroxydehydro-<tspan x="329" dy="11">epiandrosterone</tspan></text></g>
<g id="c60"><circle class="c" cx="210" cy="981" r="8"/><text class="l" x="106" y="984">3β,17β-Dihydroxy-<tspan x="106" dy="11">androst-5-ene</tspan></text></g>
<g id="c61"><circle class="c" cx="320" cy="981" r="8"/><text class="l" x="270" y="1006">16α-Hydroxydehydro-<tspan x="270" dy="11">epiandrosterone</tspan></text></g>
<g id="c62"><circle class="c" cx="437" cy="981" r="8"/><text class="l" x="344" y="946">16α-Hydroxyandrost-<tspan x="344" dy="11">4-ene-3,17-dione</tspan></text></g>
<g id="c63"><circle class="c" cx="620" cy="932" r="8"/><text class="l" x="572" y="955">5β-Androstane-<tspan x="572" dy="11">3,17-dione</tspan></text></g>
<g id="c64"><circle class="c" cx="714" cy="932" r="8"/><text class="l" x="684" y="955">Etiocholan-3α-<tspan x="684" dy="11">ol-17-one</tspan></text></g>
<g id="c65"><circle class="c" cx="810" cy="932" r="8"/><text class="l" x="768" y="954">Etiocholan-3α-ol-<tspan x="768" dy="11">17-one 3-glucuronide</tspan></text></g>
<g id="c66"><circle class="c" cx="620" cy="1002" r="8"/><text class="l" x="630" y="998">3-Oxo-13,17-secoandrost-<tspan x="630" dy="11">4-ene-17,13α-lactone</tspan></text></g>
<g id="c67"><circle class="c" cx="454" cy="1064" r="8"/><text class="l" x="398" y="1038">Androst-<tspan x="398" dy="11">4-ene-</tspan><tspan x="398" dy="10">3,17-dione</tspan></text></g>
<g id="c68"><circle class="c" cx="400" cy="1104" r="8"/><text class="l" x="312" y="1103">7α-Hydroxy-<tspan x="312" dy="11">androstenedione</tspan></text></g>
<g id="c69"><circle class="c" cx="400" cy="1173" r="8"/><text class="l" x="324" y="1181">7α-Hydroxy-<tspan x="324" dy="11">testosterone</tspan></text></g>
<g id="c70"><circle class="c" cx="454" cy="1233" r="8"/><text class="l" x="448" y="1255">Testosterone</text></g>
<g id="c71"><circle class="c" cx="620" cy="1064" r="8"/><text class="l" x="576" y="1038">19-Hydroxyandrost-<tspan x="576" dy="11">4-ene-3,17-dione</tspan></text></g>
<g id="c72"><circle class="c" cx="716" cy="1064" r="8"/><text class="l" x="694" y="1039">19-Oxoandrost-4-ene-<tspan x="694" dy="11">3,17-dione</tspan></text></g>
<g id="c73"><circle class="c" cx="874" cy="1064" r="8"/><text class="l" x="830" y="1060">Estrone</text></g>
<g id="c74"><circle class="c" cx="620" cy="1126" r="8"/><text class="l" x="584" y="1105">5α-Androstane-<tspan x="584" dy="11">3,17-dione</tspan></text></g>
<g id="c75"><circle class="c" cx="714" cy="1126" r="8"/><text class="l" x="684" y="1110">Androsterone</text></g>
<g id="c76"><circle class="c" cx="810" cy="1126" r="8"/><text class="l" x="772" y="1100">Androsterone-<tspan x="772" dy="11">glucuronide</tspan></text></g>
<g id="c77"><circle class="c" cx="620" cy="1189" r="8"/><text class="l" x="588" y="1167">5α-Dihydro-<tspan x="588" dy="11">testosterone</tspan></text></g>
<g id="c78"><circle class="c" cx="714" cy="1189" r="8"/><text class="l" x="724" y="1190">Androstan-<tspan x="724" dy="12">3alpha,17beta-diol</tspan></text></g>
<g id="c79"><circle class="c" cx="620" cy="1233" r="8"/><text class="l" x="592" y="1254">19-Hydroxy-<tspan x="592" dy="11">testosterone</tspan></text></g>
<g id="c80"><circle class="c" cx="717" cy="1233" r="8"/><text class="l" x="678" y="1259">19-Oxotestosterone</text></g>
<g id="c81"><circle class="c" cx="874" cy="1233" r="8"/><text class="l" x="842" y="1254">Estradiol-17β</text></g>
<g id="c82"><circle class="c" cx="620" cy="1296" r="8"/><text class="l" x="633" y="1300">5β-Dihydro-testosterone</text></g>
<g id="c83"><circle class="c" cx="620" cy="1352" r="8"/><text class="l" x="634" y="1357">Testosterone glucuronide</text></g>
<g id="c84"><circle class="c" cx="926" cy="855" r="8"/><text class="l" x="933" y="860">Estrone 3-sulfate</text></g>
<g id="c85"><circle class="c" cx="1024" cy="907" r="8"/><text class="l" x="1036" y="911">Estrone glucuronide</text></g>
<g id="c86"><circle class="c" cx="1024" cy="955" r="8"/><text class="l" x="1036" y="959">Estradiol-17α</text></g>
<g id="c87"><circle class="c" cx="1024" cy="1012" r="8"/><text class="l" x="986" y="1036">2-Hydroxyestrone</text></g>
<g id="c88"><circle class="c" cx="1118" cy="1012" r="8"/><text class="l" x="1124" y="1016">2-Methoxyestrone</text></g>
<g id="c89"><circle class="c" cx="1206" cy="987" r="8"/><text class="l" x="1216" y="987">2-Methoxyestrone-<tspan x="1216" dy="10">3-glucuronide</tspan></text></g>
<g id="c90"><circle class="c" cx="1206" cy="1037" r="8"/><text class="l" x="1216" y="1038">2-Methoxyestrone-<tspan x="1216" dy="10">3-sulfate</tspan></text></g>
<g id="c91"><circle class="c" cx="1024" cy="1064" r="8"/><text class="l" x="1032" y="1068">16-α-Hydroxyestrone</text></g>
<g id="c92"><circle class="c" cx="1024" cy="1233" r="8"/><text class="l" x="1010" y="1250">Estriol</text></g>
<g id="c93"><circle class="c" cx="1119" cy="1233" r="8"/><text class="l" x="1130" y="1237">16-Glucuronide-estriol</text></g>
<g id="c94"><circle class="c" cx="1024" cy="1285" r="8"/><text class="l" x="1003" y="1304">2-Hydroxy-<tspan x="1003" dy="11">estradiol-17β</tspan></text></g>
<g id="c95"><circle class="c" cx="1119" cy="1285" r="8"/><text class="l" x="1126" y="1289">2-Methoxy-estradiol-17β</text></g>
<g id="c96"><circle class="c" cx="1206" cy="1259" r="8"/><text class="l" x="1214" y="1259">2-Methoxy-estradiol-<tspan x="1214" dy="11">17β-3-glucuronide</tspan></text></g>
<g id="c97"><circle class="c" cx="1206" cy="1309" r="8"/><text class="l" x="1214" y="1310">2-Methoxy-estradiol-<tspan x="1214" dy="11">17β-3-sulfate</tspan></text></g>
<g id="c98"><circle class="c" cx="1024" cy="1336" r="8"/><text class="l" x="1033" y="1340">6β-Hydroxy-estradiol-17β</text></g>
<g id="c99"><circle class="c" cx="1024" cy="1387" r="8"/><text class="l" x="1032" y="1391">Estradiol-17β-3-glucuronide</text></g>
<g id="c100"><circle class="c" cx="927" cy="1441" r="8"/><text class="l" x="946" y="1446">Estradiol-17β-3-sulfate</text></g>
</g>

<g id="groups">
<text class="bd" x="1115" y="525">C21-Steroids</text>
<text class="bd" x="1123" y="1124">C18-Steroids</text>
<text class="bd" x="372" y="1295">C19-Steroids</text>
</g>

<g id="footer">
<text class="sans" x="17" y="1474" font-size="24.6" font-weight="bold">Data on KEGG graph</text>
<text class="sans" x="17" y="1503" font-size="24.6" font-weight="bold">Rendered by Pathview</text>
</g>
<path d="M1,0V1497.5H1344.5V0" fill="none" stroke="#000" stroke-width="2"/>
</svg>
